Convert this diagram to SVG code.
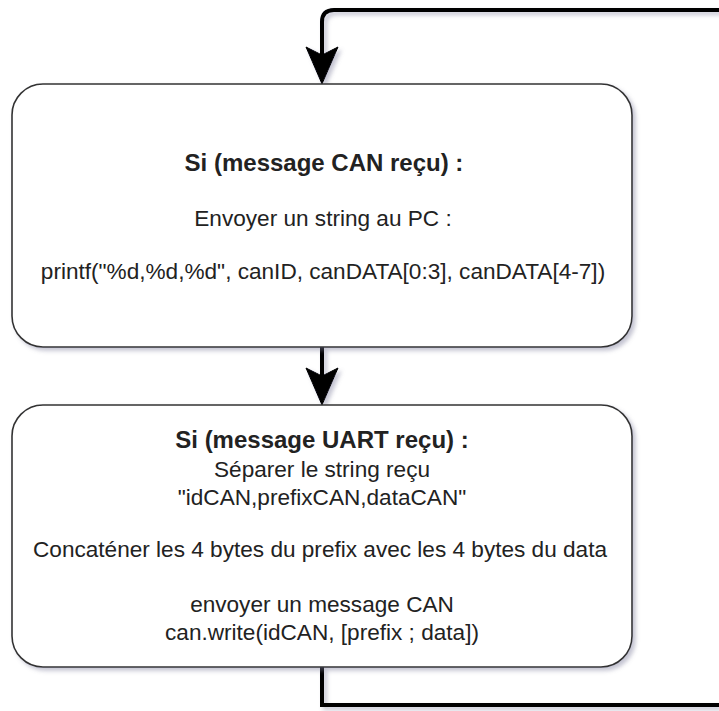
<svg xmlns="http://www.w3.org/2000/svg" width="719" height="711" viewBox="0 0 719 711">
  <defs>
    <filter id="shadow" x="-10%" y="-10%" width="130%" height="130%">
      <feDropShadow dx="3" dy="3" stdDeviation="2" flood-color="#7a7a9a" flood-opacity="0.45"/>
    </filter>
    <style>
      .box { fill: #ffffff; stroke: #333333; stroke-width: 1.6; filter: url(#shadow); }
      .edge { fill: none; stroke: #000000; stroke-width: 4; }
      .head { fill: #000000; stroke: #000000; stroke-width: 1; stroke-linejoin: miter; }
      text { font-family: "Liberation Sans", Arial, sans-serif; fill: #222222; text-anchor: middle; }
      .title { font-size: 24px; font-weight: bold; }
      .body { font-size: 22.6px; }
    </style>
  </defs>

  <rect width="719" height="711" fill="#ffffff"/>

  <!-- connectors -->
  <g id="connectors" filter="url(#shadow)">
    <!-- loop back from the bottom step into the first step -->
    <path class="edge" d="M719,10 H334 Q322,10 322,22 V58"/>
    <path class="head" d="M322,84 L306,47 L322,55 L338,47 Z"/>
    <!-- first step to second step -->
    <path class="edge" d="M322,347 V379"/>
    <path class="head" d="M322,405 L306,368 L322,376 L338,368 Z"/>
    <!-- exit of the second step -->
    <path class="edge" d="M322,667 V705 H719"/>
  </g>

  <!-- CAN reception step -->
  <g id="node-can">
    <rect class="box" x="12" y="84" width="620" height="263" rx="31" ry="31"/>
    <text class="title" x="324" y="171">Si (message CAN reçu) :</text>
    <text class="body" x="323" y="226">Envoyer un string au PC :</text>
    <text class="body" x="323" y="279">printf("%d,%d,%d", canID, canDATA[0:3], canDATA[4-7])</text>
  </g>

  <!-- UART reception step -->
  <g id="node-uart">
    <rect class="box" x="12" y="405" width="620" height="262" rx="31" ry="31"/>
    <text class="title" x="322" y="448">Si (message UART reçu) :</text>
    <text class="body" x="322" y="477">Séparer le string reçu</text>
    <text class="body" x="322" y="505">"idCAN,prefixCAN,dataCAN"</text>
    <text class="body" x="320" y="557">Concaténer les 4 bytes du prefix avec les 4 bytes du data</text>
    <text class="body" x="322" y="612">envoyer un message CAN</text>
    <text class="body" x="322" y="640">can.write(idCAN, [prefix ; data])</text>
  </g>
</svg>
